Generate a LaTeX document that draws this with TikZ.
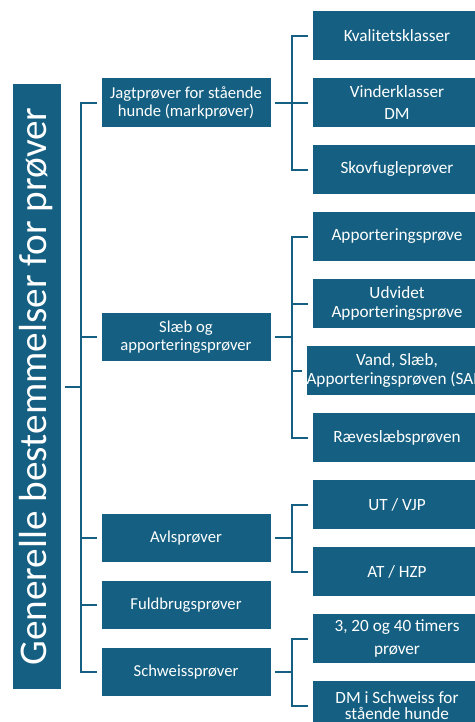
\documentclass[tikz,border=0pt]{standalone}
\usepackage{fontspec}
\setmainfont{Carlito}
\definecolor{boxblue}{HTML}{156082}
\begin{document}
\begin{tikzpicture}[x=0.75pt,y=-0.75pt,
  box/.style={draw=white, line width=0.6pt, fill=boxblue, text=white,
    minimum width=127.5pt, minimum height=37pt, inner sep=0pt, align=center,
    font=\fontsize{12.5}{13.5}\selectfont},
  leaf/.style={box, font=\fontsize{12.9}{13.7}\selectfont},
  conn/.style={draw=boxblue, line width=1.5pt}]
\useasboundingbox (0,0) rectangle (475,722);
\clip (0,0) rectangle (475,722);
\fill[white] (0,0) rectangle (475,722);

% root
\node[draw=white, line width=0.6pt, fill=boxblue, minimum width=36.75pt, minimum height=455pt, inner sep=0pt] (root) at (36.5,386.5) {};
\node[rotate=90, text=white, font=\fontsize{29.4}{31}\selectfont] (rootlabel) at (root.center) {Generelle bestemmelser for prøver};

% level 1
\node[box] (jagt) at (186,102.5) {Jagtprøver for stående\\hunde (markprøver)};
\node[box] (slaeb) at (186,337) {Slæb og\\apporteringsprøver};
\node[box] (avls) at (186,538) {Avlsprøver};
\node[box] (fuld) at (186,605) {Fuldbrugsprøver};
\node[box] (schw) at (186,672) {Schweissprøver};

% leaves
\node[leaf] (kval) at (397,35.5) {Kvalitetsklasser};
\node[leaf] (vind) at (397,102.5) {Vinderklasser\\[3.5pt]DM};
\node[leaf] (skov) at (397,169.5) {Skovfugleprøver};
\node[leaf] (appo) at (397,236.5) {Apporteringsprøve};
\node[leaf] (udv) at (397,303.5) {Udvidet\\Apporteringsprøve};
\node[leaf] (vand) at (397,370.5) {Vand, Slæb,\\Apporteringsprøven (SAP)};
\node[leaf] (raeve) at (397,437.5) {Ræveslæbsprøven};
\node[leaf] (ut) at (397,504.5) {UT / VJP};
\node[leaf] (at) at (397,571.5) {AT / HZP};
\node[leaf] (timer) at (397,638.5) {3, 20 og 40 timers\\[4pt]prøver};
\node[leaf] (dm) at (397,705.5) {DM i Schweiss for\\[-1.8pt]stående hunde};

% buses
\coordinate (lbus) at (81,0);
\coordinate (rbus) at (292,0);

% left tree
\draw[conn] ([xshift=3pt]root.east) -- (root.east -| lbus);
\draw[conn] ([xshift=-3pt]jagt.west) -- (jagt.west -| lbus) -- (schw.west -| lbus) -- ([xshift=-3pt]schw.west);
\draw[conn] (slaeb.west -| lbus) -- ([xshift=-3pt]slaeb.west);
\draw[conn] (avls.west -| lbus) -- ([xshift=-3pt]avls.west);
\draw[conn] (fuld.west -| lbus) -- ([xshift=-3pt]fuld.west);

% jagt group
\draw[conn] ([xshift=-3pt]kval.west) -- (kval.west -| rbus) -- (skov.west -| rbus) -- ([xshift=-3pt]skov.west);
\draw[conn] ([xshift=3pt]jagt.east) -- ([xshift=-3pt]vind.west);

% slaeb group
\draw[conn] ([xshift=-3pt]appo.west) -- (appo.west -| rbus) -- (raeve.west -| rbus) -- ([xshift=-3pt]raeve.west);
\draw[conn] (udv.west -| rbus) -- ([xshift=-3pt]udv.west);
\draw[conn] (vand.west -| rbus) -- ([xshift=-3pt]vand.west);
\draw[conn] ([xshift=3pt]slaeb.east) -- (slaeb.east -| rbus);

% avls group
\draw[conn] ([xshift=-3pt]ut.west) -- (ut.west -| rbus) -- (at.west -| rbus) -- ([xshift=-3pt]at.west);
\draw[conn] ([xshift=3pt]avls.east) -- (avls.east -| rbus);

% schweiss group
\draw[conn] ([xshift=-3pt]timer.west) -- (timer.west -| rbus) -- (dm.west -| rbus) -- ([xshift=-3pt]dm.west);
\draw[conn] ([xshift=3pt]schw.east) -- (schw.east -| rbus);
\end{tikzpicture}
\end{document}
